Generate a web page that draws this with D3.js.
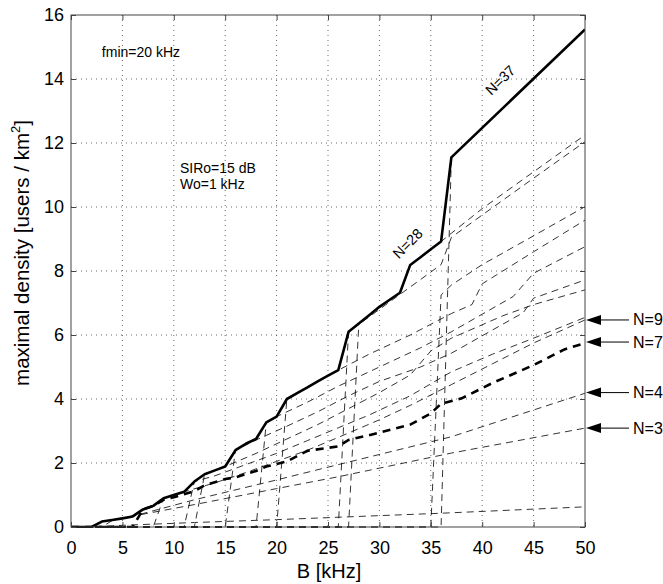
<!DOCTYPE html>
<html>
<head>
<meta charset="utf-8">
<script src="https://cdn.jsdelivr.net/npm/d3@7"></script>
<style>
  body { margin: 0; background: #fff; }
  text { font-family: "Liberation Sans", Arial, Helvetica, sans-serif; }
</style>
</head>
<body>
<div id="chart"></div>
<script>
// ---- data (B in kHz, density in users/km^2) ----
var xTicks = [0, 5, 10, 15, 20, 25, 30, 35, 40, 45, 50];
var yTicks = [0, 2, 4, 6, 8, 10, 12, 14, 16];

// solid envelope (maximum over N)
var envelope = [[0,0],[2,0],[3,0.17],[4,0.22],[5,0.27],[6,0.33],[7,0.55],[8,0.66],[9,0.9],[10,1.0],[11,1.1],
  [12,1.42],[13,1.65],[14,1.77],[15,1.89],[16,2.4],[17,2.6],[18,2.75],[19,3.27],[20,3.45],[21,4.0],[22,4.18],
  [23,4.36],[24,4.55],[25,4.73],[26,4.9],[27,6.1],[28,6.36],[29,6.62],[30,6.88],[31,7.1],[32,7.32],[33,8.19],
  [34,8.43],[35,8.68],[36,8.92],[37,11.55],[50,15.55]];

// dashed curves, one per N
var curveN1  = [[0,0],[4,0.04],[12,0.14],[20,0.23],[28,0.33],[36,0.43],[50,0.63]];
var curveN3  = [[0,0],[2,0],[3,0.17],[6,0.34],[12,0.7],[20,1.2],[26,1.57],[37,2.31],[50,3.09]];
var curveN4  = [[0,0],[3,0],[4,0.2],[7,0.42],[12,0.85],[20,1.47],[26,1.95],[37,2.82],[50,4.18]];
var curveN7  = [[0,0],[6,0],[7,0.55],[8,0.66],[9,0.85],[10,0.93],[12,1.12],[13,1.3],[15,1.5],[16,1.55],[18,1.75],
  [19,1.89],[21,2.05],[23,2.38],[26,2.52],[27,2.72],[29,2.87],[33,3.2],[35,3.55],[36,3.85],[38,4.02],[41,4.5],
  [45,5.06],[48,5.55],[50,5.75]];
var curveN9  = [[0,0],[8,0],[9,0.9],[11,1.1],[14,1.38],[17,1.7],[20,2.05],[23,2.4],[26,2.8],[30,3.35],[33,3.8],
  [37,4.45],[41,5.1],[45,5.75],[50,6.47]];
var curveN12 = [[0,0],[11,0],[12,1.42],[14,1.6],[17,1.95],[20,2.3],[23,2.7],[26,3.1],[29,3.5],[33,4.1],[37,4.85],
  [41,5.4],[45,5.9],[50,6.55]];
var curveN13 = [[0,0],[12,0],[13,1.65],[15,1.89],[18,2.3],[21,2.75],[24,3.2],[27,3.7],[30,4.2],[33,4.75],[35,5.5],
  [37,5.9],[42,6.6],[45,6.95],[50,7.41]];
var curveN16 = [[0,0],[15,0],[16,2.4],[18,2.72],[21,3.15],[24,3.6],[27,4.1],[30,4.55],[34,5.0],[37,5.43],[44,6.7],
  [45,7.15],[50,7.72]];
var curveN19 = [[0,0],[18,0],[19,3.27],[20,3.45],[23,3.9],[26,4.4],[30,5.0],[34,5.6],[37,6.1],[43,7.2],[45,7.93],
  [50,8.76]];
var curveN21 = [[0,0],[20,0],[21,4.0],[22,4.18],[26,4.9],[29,5.4],[33,6.0],[37,6.67],[39,6.95],[40,7.6],[45,8.6],
  [50,9.59]];
var curveN27 = [[0,0],[26,0],[27,6.1],[30,6.8],[33,7.5],[36,8.2],[37,9.05],[40,9.75],[45,10.9],[50,12.04]];
var curveN28 = [[0,0],[27,0],[28,6.36],[30,6.85],[32,7.32],[33,8.19],[36,8.92],[37,9.18],[40,9.95],[45,11.1],
  [50,12.25]];
var curveN36 = [[0,0],[35,0],[36,7.25],[37,7.56],[40,8.2],[45,9.1],[50,10.01]];
var curveN37 = [[0,0],[36,0],[37,11.55],[50,15.55]];

var thinCurves = [curveN1, curveN3, curveN4, curveN9, curveN12, curveN13, curveN16, curveN19,
                  curveN21, curveN27, curveN28, curveN36, curveN37];

// arrow labels on the right
var arrowN = [9, 7, 4, 3];
var arrowV = [6.47, 5.78, 4.2, 3.09];

var margin = {top: 15, right: 78, bottom: 57, left: 71},
    width = 663 - margin.left - margin.right,
    height = 584 - margin.top - margin.bottom;

var svgRoot = d3.select("#chart").append("svg")
    .attr("width", 663)
    .attr("height", 584);

var svg = svgRoot.append("g")
    .attr("transform", "translate(" + margin.left + "," + margin.top + ")");

var x = d3.scaleLinear().domain([0, 50]).range([0, width]);
var y = d3.scaleLinear().domain([0, 16]).range([height, 0]);

// grid (dotted)
svg.append("g").selectAll("line")
    .data(xTicks.slice(1, -1)).enter().append("line")
    .attr("x1", function (d) { return x(d); })
    .attr("x2", function (d) { return x(d); })
    .attr("y1", 0).attr("y2", height)
    .style("stroke", "#444").style("stroke-width", 0.8)
    .style("stroke-dasharray", "1,4");

svg.append("g").selectAll("line")
    .data(yTicks.slice(1, -1)).enter().append("line")
    .attr("y1", function (d) { return y(d); })
    .attr("y2", function (d) { return y(d); })
    .attr("x1", 0).attr("x2", width)
    .style("stroke", "#444").style("stroke-width", 0.8)
    .style("stroke-dasharray", "1,4");

svgRoot.append("defs").append("clipPath").attr("id", "plotclip")
  .append("rect").attr("width", width).attr("height", height + 1);

var line = d3.line()
    .x(function (d) { return x(d[0]); })
    .y(function (d) { return y(d[1]); });

var curves = svg.append("g").attr("clip-path", "url(#plotclip)");

curves.selectAll(".thin")
    .data(thinCurves).enter().append("path")
    .attr("class", "thin")
    .attr("d", line)
    .style("fill", "none").style("stroke", "#000")
    .style("stroke-width", 0.8)
    .style("stroke-dasharray", "7,5");

curves.append("path")
    .attr("d", line(curveN7))
    .style("fill", "none").style("stroke", "#000")
    .style("stroke-width", 2.6)
    .style("stroke-dasharray", "8,6");

curves.append("path")
    .attr("d", line(envelope))
    .style("fill", "none").style("stroke", "#000")
    .style("stroke-width", 2.6)
    .style("stroke-linejoin", "round");

// axes (ticks inside, box on)
function styleAxis(g) {
  g.select(".domain").remove();
  g.selectAll(".tick line").style("stroke", "#444");
  g.selectAll(".tick text").style("font-size", "18px").style("fill", "#000");
}

svg.append("g")
    .attr("transform", "translate(0," + height + ")")
    .call(d3.axisBottom(x).tickValues(xTicks).tickSize(-5).tickPadding(14))
    .call(styleAxis);

svg.append("g")
    .call(d3.axisTop(x).tickValues(xTicks).tickSize(-5).tickFormat(""))
    .call(styleAxis);

svg.append("g")
    .call(d3.axisLeft(y).tickValues(yTicks).tickSize(-5).tickPadding(7))
    .call(styleAxis);

svg.append("g")
    .attr("transform", "translate(" + width + ",0)")
    .call(d3.axisRight(y).tickValues(yTicks).tickSize(-5).tickFormat(""))
    .call(styleAxis);

svg.append("rect")
    .attr("width", width).attr("height", height)
    .style("fill", "none").style("stroke", "#444").style("stroke-width", 1);

// axis labels
svg.append("text")
    .attr("x", width / 2 + 1)
    .attr("y", height + 51)
    .attr("text-anchor", "middle")
    .style("font-size", "20px")
    .text("B [kHz]");

var ylab = svg.append("text")
    .attr("transform", "translate(" + (-42) + "," + (height / 2 - 18) + ") rotate(-90)")
    .attr("text-anchor", "middle")
    .style("font-size", "20.5px");
ylab.append("tspan").text("maximal density [users / km");
ylab.append("tspan").attr("dy", -9).style("font-size", "13px").text("2");
ylab.append("tspan").attr("dy", 9).text("]");

// annotations
svg.append("text")
    .attr("x", x(3)).attr("y", y(14.7))
    .style("font-size", "14px")
    .text("fmin=20 kHz");

svg.append("text")
    .attr("x", x(10.6)).attr("y", y(11.05))
    .style("font-size", "14px")
    .text("SIRo=15 dB");

svg.append("text")
    .attr("x", x(10.6)).attr("y", y(10.55))
    .style("font-size", "14px")
    .text("Wo=1 kHz");

svg.append("text")
    .attr("transform", "translate(" + x(33.1) + "," + y(8.75) + ") rotate(-45)")
    .attr("text-anchor", "middle")
    .style("font-size", "14.5px")
    .text("N=28");

svg.append("text")
    .attr("transform", "translate(" + x(42.1) + "," + y(13.85) + ") rotate(-44)")
    .attr("text-anchor", "middle")
    .style("font-size", "14.5px")
    .text("N=37");

// right-hand arrows
var arrows = svg.append("g").selectAll("g")
    .data(arrowN).enter().append("g")
    .attr("transform", function (d, i) {
      return "translate(" + (width + 1) + "," + y(arrowV[i]) + ")";
    });

arrows.append("line")
    .attr("x1", 12).attr("x2", 43)
    .style("stroke", "#000").style("stroke-width", 1);

arrows.append("path")
    .attr("d", "M0,0L15,-5L15,5Z")
    .style("fill", "#000");

arrows.append("text")
    .attr("x", 47).attr("y", 5.5)
    .style("font-size", "16px")
    .text(function (d) { return "N=" + d; });
</script>
</body>
</html>
